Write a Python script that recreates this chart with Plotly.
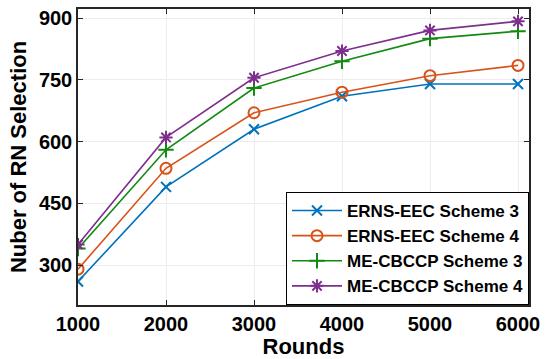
import plotly.graph_objects as go

rounds = [1000, 2000, 3000, 4000, 5000, 6000]
erns_s3 = [260, 490, 630, 710, 740, 740]
erns_s4 = [290, 535, 670, 720, 760, 785]
me_s3 = [340, 580, 730, 795, 850, 868]
me_s4 = [350, 610, 755, 820, 870, 892]

names = ["ERNS-EEC Scheme 3", "ERNS-EEC Scheme 4", "ME-CBCCP Scheme 3", "ME-CBCCP Scheme 4"]
series = [erns_s3, erns_s4, me_s3, me_s4]
colors = ["#0072BD", "#D95319", "#128A12", "#7E2F8E"]
symbols = ["x-thin-open", "circle-open", "cross-thin-open", "asterisk-open"]
sizes = [10, 11, 11, 11]

y_ticks = [300, 450, 600, 750, 900]
x_ticks = rounds

fig = go.Figure()
for name, ys, c, s, sz in zip(names, series, colors, symbols, sizes):
    fig.add_trace(go.Scatter(
        x=rounds, y=ys, name=name, mode="lines+markers",
        line=dict(color=c, width=1.6),
        marker=dict(symbol=s, size=sz, color=c, line=dict(color=c, width=2)),
    ))

font = dict(family="Liberation Sans, Arial, sans-serif", color="#000000")
axis_common = dict(
    showline=True, linecolor="#262626", linewidth=1.5, mirror="ticks",
    ticks="inside", ticklen=5, tickcolor="#262626",
    showgrid=True, gridcolor="#ececec", gridwidth=1, zeroline=False,
    tickfont=dict(size=20, weight="bold", **font),
)
fig.update_xaxes(range=[1000, 6125], tickvals=x_ticks,
                 title=dict(text="Rounds", font=dict(size=22, weight="bold", **font), standoff=0),
                 **axis_common)
fig.update_yaxes(range=[203, 922], tickvals=y_ticks,
                 title=dict(text="Nuber of RN Selection", font=dict(size=22, weight="bold", **font), standoff=6),
                 **axis_common)
fig.update_layout(
    width=548, height=359,
    margin=dict(l=78, r=19, t=7, b=54),
    paper_bgcolor="white", plot_bgcolor="white",
    showlegend=True,
    legend=dict(x=1, y=0, xanchor="right", yanchor="bottom",
                bgcolor="white", bordercolor="#000000", borderwidth=1,
                font=dict(size=17, weight="bold", **font),
                tracegroupgap=0, itemwidth=50),
)
fig.write_html("out.html")
